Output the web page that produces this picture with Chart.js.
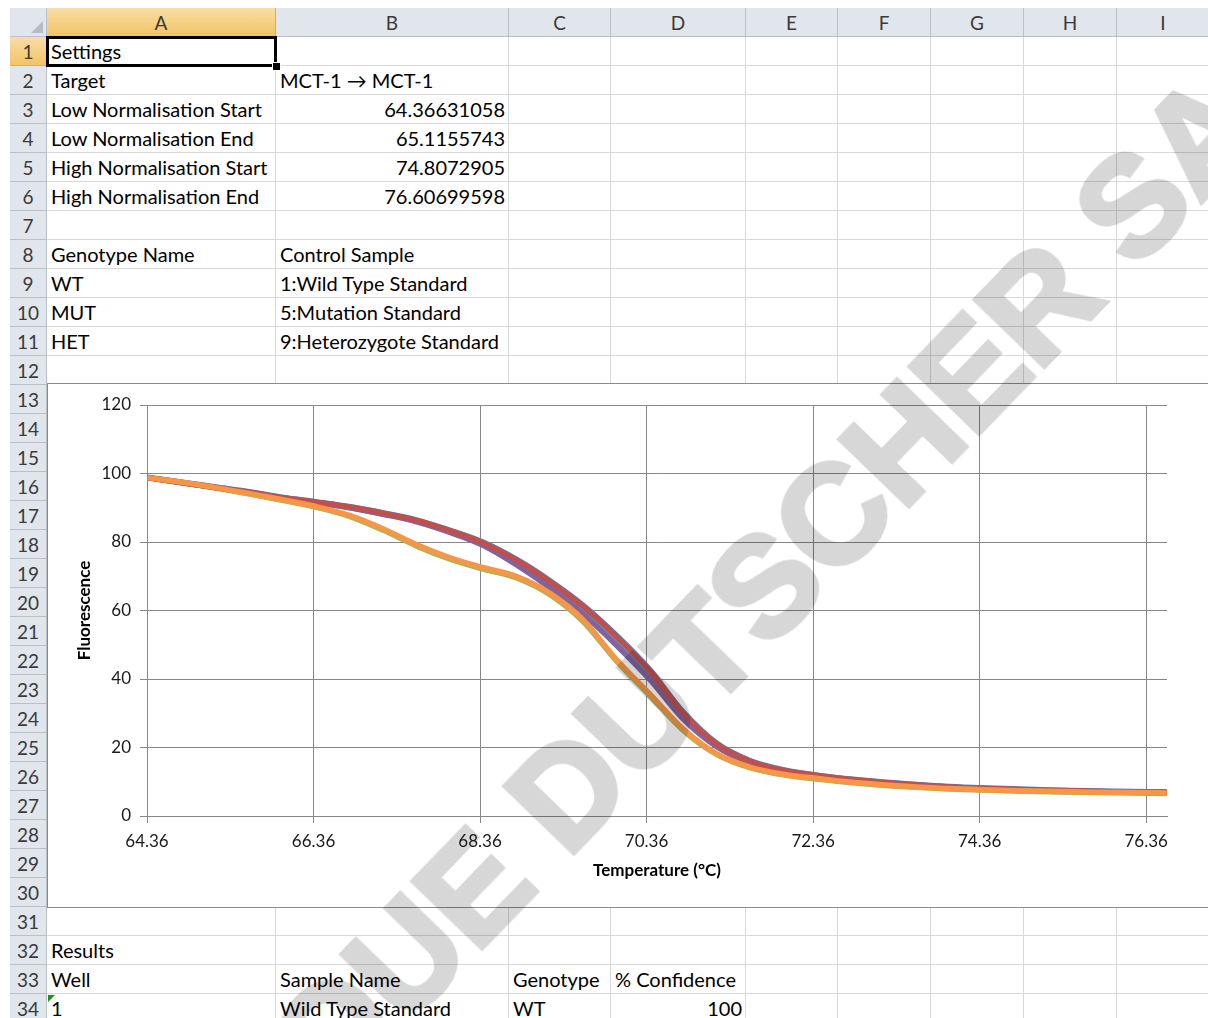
<!DOCTYPE html>
<html>
<head>
<meta charset="utf-8">
<script src="https://cdn.jsdelivr.net/npm/chart.js@4"></script>
<style>
  body { margin: 0; width: 1208px; height: 1018px; overflow: hidden; position: relative; background: #fff; font-family: Lato, "Open Sans", sans-serif; }
  .cell { position: absolute; box-sizing: border-box; border-right: 1px solid #d8d8d8; border-bottom: 1px solid #d8d8d8;
          font-size: 20px; line-height: 29px; padding: 0 4px; white-space: nowrap; color: #000; overflow: visible; }
  .num { text-align: right; padding-right: 3px; }
  .hdr { position: absolute; box-sizing: border-box; background: #e1e6ec; color: #3a3a3a; font-size: 19px; text-align: center;
         border-right: 1px solid #b9c0c8; border-bottom: 1px solid #b9c0c8; }
  .hdr.sel { background: linear-gradient(#f9dda6, #f2c463); border-color: #e5a84a; }
  #chartBox { position: absolute; left: 47px; top: 383px; width: 1161px; height: 525px; background: #fff; box-sizing: border-box;
              border-top: 1px solid #8a8a8a; border-bottom: 1px solid #8a8a8a; border-left: 1px solid #8a8a8a; }
  #chartBox canvas { position: absolute; left: 0; top: 0; }
  #wm { position: absolute; left: -56px; top: 1366px; transform-origin: 0 50%; transform: rotate(-46deg);
        font: bold 140px "Liberation Sans", Arial, sans-serif; line-height: 140px; white-space: nowrap;
        color: #d7d7d7; -webkit-text-stroke: 5px #d7d7d7; mix-blend-mode: multiply; pointer-events: none; z-index: 10; }
</style>
</head>
<body>
<div id="sheet"></div>
<div id="chartBox"><canvas id="meltChart" width="1160" height="523"></canvas></div>
<div id="wm">DOMINIQUE DUTSCHER SAS</div>
<script>
// melt curve data (normalised fluorescence vs temperature)
const temps = [64.366, 64.8, 65.2, 65.6, 66.0, 66.4, 66.8, 67.2, 67.6, 68.0, 68.4, 68.8, 69.2, 69.6, 70.0, 70.4,
               70.8, 71.2, 71.6, 72.0, 72.4, 72.8, 73.2, 73.6, 74.0, 74.4, 74.8, 75.2, 75.6, 76.0, 76.607];
const wtA  = [98.9, 97.4, 96.0, 94.6, 93.0, 91.7, 90.3, 88.5, 86.4, 83.4, 79.9, 74.9, 68.7, 61.5, 52.7, 42.7,
              30.4, 21.3, 16.2, 13.5, 11.9, 10.8, 9.9, 9.2, 8.6, 8.2, 7.9, 7.6, 7.4, 7.2, 7.0];
const wtB  = [98.8, 97.3, 95.9, 94.5, 92.9, 91.6, 90.2, 88.4, 86.3, 83.3, 79.7, 74.7, 68.4, 61.1, 52.3, 42.3,
              30.0, 21.0, 16.0, 13.4, 11.9, 10.7, 9.8, 9.1, 8.5, 8.1, 7.8, 7.5, 7.3, 7.1, 6.9];
const mutA = [98.8, 97.2, 95.8, 94.3, 92.7, 91.4, 90.0, 88.1, 85.9, 82.8, 79.0, 73.3, 66.6, 58.9, 49.8, 39.8,
              28.3, 20.3, 15.6, 13.1, 11.6, 10.5, 9.7, 9.0, 8.4, 8.0, 7.7, 7.4, 7.2, 7.0, 6.9];
const mutB = [98.8, 97.2, 95.8, 94.3, 92.7, 91.4, 90.0, 88.1, 86.0, 82.9, 79.2, 73.6, 67.0, 59.4, 50.4, 40.3,
              28.7, 20.4, 15.5, 12.9, 11.4, 10.3, 9.5, 8.9, 8.3, 7.9, 7.6, 7.4, 7.2, 7.0, 6.8];
const hetA = [98.8, 97.3, 95.7, 94.0, 92.1, 90.1, 87.4, 83.4, 78.8, 75.0, 72.1, 69.5, 64.6, 56.7, 45.2, 35.1,
              25.0, 18.0, 14.1, 12.0, 10.8, 9.8, 9.0, 8.4, 7.9, 7.6, 7.3, 7.1, 6.9, 6.8, 6.6];
const hetB = [98.8, 97.4, 95.8, 94.1, 92.3, 90.3, 87.7, 83.8, 79.2, 75.4, 72.5, 69.9, 65.0, 57.2, 45.6, 35.6,
              25.4, 18.2, 14.3, 12.2, 11.0, 9.9, 9.1, 8.5, 8.0, 7.7, 7.4, 7.2, 7.0, 6.9, 6.7];
const xTicks = [64.36, 66.36, 68.36, 70.36, 72.36, 74.36, 76.36];
const yTicks = [0, 20, 40, 60, 80, 100, 120];

// spreadsheet layout
const colNames = ["A", "B", "C", "D", "E", "F", "G", "H", "I"];
const colEdges = [47, 276, 509, 611, 746, 838, 931, 1024, 1117, 1210];
const rowTop = 37, rowH = 29, nRows = 34;
const cells = {
    "1,0": "Settings",
    "2,0": "Target", "2,1": "MCT-1 \u2192 MCT-1",
    "3,0": "Low Normalisation Start", "3,1": "64.36631058",
    "4,0": "Low Normalisation End", "4,1": "65.1155743",
    "5,0": "High Normalisation Start", "5,1": "74.8072905",
    "6,0": "High Normalisation End", "6,1": "76.60699598",
    "8,0": "Genotype Name", "8,1": "Control Sample",
    "9,0": "WT", "9,1": "1:Wild Type Standard",
    "10,0": "MUT", "10,1": "5:Mutation Standard",
    "11,0": "HET", "11,1": "9:Heterozygote Standard",
    "32,0": "Results",
    "33,0": "Well", "33,1": "Sample Name", "33,2": "Genotype", "33,3": "% Confidence",
    "34,0": "1", "34,1": "Wild Type Standard", "34,2": "WT", "34,3": "100"
};
const numCells = ["3,1", "4,1", "5,1", "6,1", "34,3"];

function buildSheet() {
    const sheet = document.getElementById("sheet");
    let html = "";
    // corner
    html += `<div class="hdr" style="left:10px;top:8px;width:37px;height:29px;">
        <div style="position:absolute;right:3px;bottom:3px;width:0;height:0;border-left:12px solid transparent;border-bottom:12px solid #b7bcc2;"></div></div>`;
    colNames.forEach((c, i) => {
        const sel = i === 0 ? " sel" : "";
        html += `<div class="hdr${sel}" style="left:${colEdges[i]}px;top:8px;width:${colEdges[i + 1] - colEdges[i]}px;height:29px;line-height:29px;">${c}</div>`;
    });
    for (let r = 1; r <= nRows; r++) {
        const top = rowTop + (r - 1) * rowH;
        const sel = r === 1 ? " sel" : "";
        html += `<div class="hdr${sel}" style="left:10px;top:${top}px;width:37px;height:${rowH}px;line-height:29px;">${r}</div>`;
        for (let c = 0; c < colNames.length; c++) {
            const key = r + "," + c;
            const txt = cells[key] || "";
            const cls = numCells.includes(key) ? "cell num" : "cell";
            html += `<div class="${cls}" style="left:${colEdges[c]}px;top:${top}px;width:${colEdges[c + 1] - colEdges[c]}px;height:${rowH}px;">${txt}</div>`;
        }
    }
    // active cell A1
    html += `<div style="position:absolute;left:46px;top:36px;width:231px;height:31px;box-sizing:border-box;border:3px solid #000;"></div>`;
    html += `<div style="position:absolute;left:272px;top:62px;width:7px;height:7px;background:#000;border:1px solid #fff;"></div>`;
    // text-number marker on A34
    const t34 = rowTop + 33 * rowH;
    html += `<div style="position:absolute;left:48px;top:${t34 + 1}px;width:0;height:0;border-top:7px solid #1f8f1f;border-right:7px solid transparent;"></div>`;
    sheet.innerHTML = html;
}

function initializeMeltChart() {
    const ctx = document.getElementById("meltChart").getContext("2d");
    const pts = (arr) => temps.map((t, i) => ({ x: t, y: arr[i] }));
    const line = (label, values, color) => ({
        label: label,
        data: pts(values),
        borderColor: color,
        borderWidth: 5.5,
        pointRadius: 0,
        fill: false,
        cubicInterpolationMode: "monotone",
    });
    new Chart(ctx, {
        type: "line",
        data: {
            // first dataset is drawn on top
            datasets: [
                line("9", hetB, "#f79646"),
                line("2", wtB, "#c0504d"),
                line("5", mutA, "#8064a2"),
                line("1", wtA, "#4f81bd"),
                line("6", mutB, "#4bacc6"),
                line("10", hetA, "#9bbb59"),
            ],
        },
        options: {
            responsive: false,
            animation: false,
            layout: { padding: { left: 22, right: 41, top: 21, bottom: 22 } },
            plugins: { legend: { display: false }, tooltip: { enabled: false } },
            scales: {
                x: {
                    type: "linear",
                    min: 64.36,
                    max: 76.61,
                    afterBuildTicks: (scale) => { scale.ticks = xTicks.map(v => ({ value: v })); },
                    afterFit: (scale) => { scale.height = 69; },
                    grid: { color: "#878787", lineWidth: 1, tickLength: 7 },
                    border: { color: "#878787", width: 1 },
                    ticks: {
                        autoSkip: false, maxRotation: 0, padding: 8, color: "#1a1a1a",
                        font: { family: "Lato", size: 17 },
                        callback: (v) => v.toFixed(2),
                    },
                    title: {
                        display: true, text: "Temperature (\u00b0C)", color: "#000",
                        font: { family: "Lato", size: 17, weight: "bold" }, padding: { top: 4, bottom: 4 },
                    },
                },
                y: {
                    min: 0,
                    max: 120,
                    afterBuildTicks: (scale) => { scale.ticks = yTicks.map(v => ({ value: v })); },
                    afterFit: (scale) => { scale.width = 77; },
                    grid: { color: "#878787", lineWidth: 1, tickLength: 7 },
                    border: { color: "#878787", width: 1 },
                    ticks: { padding: 9, color: "#1a1a1a", font: { family: "Lato", size: 17 } },
                    title: {
                        display: true, text: "Fluorescence", color: "#000",
                        font: { family: "Lato", size: 17, weight: "bold" }, padding: { top: 4, bottom: 4 },
                    },
                },
            },
        },
    });
}

buildSheet();
initializeMeltChart();
</script>
</body>
</html>
